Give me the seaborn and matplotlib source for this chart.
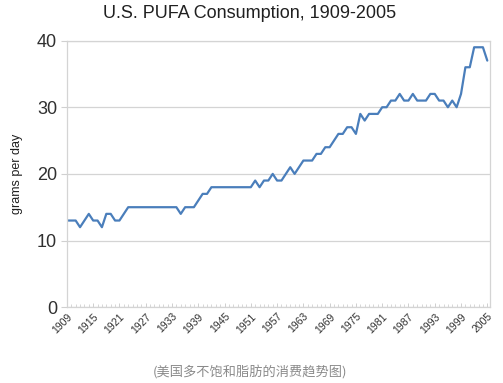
import pandas as pd
import seaborn as sns
import matplotlib.pyplot as plt
from matplotlib.ticker import MultipleLocator

# Yearly values (grams per day), 1909-2005
years = list(range(1909, 2006))
pufa = ([13, 13, 13, 12, 13, 14, 13, 13, 12, 14, 14, 13, 13, 14, 15]   # 1909-1923
        + [15] * 11                                                    # 1924-1934
        + [14, 15, 15, 15, 16, 17, 17, 18]                             # 1935-1942
        + [18] * 9                                                     # 1943-1951
        + [19, 18, 19, 19, 20, 19, 19, 20, 21, 20, 21, 22, 22, 22,     # 1952-1965
           23, 23, 24, 24, 25, 26, 26, 27, 27, 26, 29, 28, 29, 29,     # 1966-1979
           29, 30, 30, 31, 31, 32, 31, 31, 32, 31, 31, 31, 32, 32,     # 1980-1993
           31, 31, 30, 31, 30, 32, 36, 36, 39, 39, 39, 37])            # 1994-2005
xtick_years = list(range(1909, 2000, 6)) + [2005]
ytick_vals = [0, 10, 20, 30, 40]

df = pd.DataFrame({'year': years, 'pufa': pufa})

sns.set_style('white')
plt.rcParams['font.family'] = ['Liberation Sans', 'DejaVu Sans']

fig = plt.figure(figsize=(5.03, 3.83), dpi=100)
ax = fig.add_axes([0.133, 0.198, 0.841, 0.696])

sns.lineplot(data=df, x='year', y='pufa', ax=ax, color='#4a7ebb', linewidth=1.6)

ax.set_xlim(1909, 2005.6)
ax.set_ylim(0, 40)
ax.set_yticks(ytick_vals)
ax.set_xticks(xtick_years)
ax.set_xticklabels([str(y) for y in xtick_years], rotation=45, ha='right',
                   rotation_mode='anchor', fontsize=7.5, color='#303030')
ax.xaxis.set_minor_locator(MultipleLocator(1))
ax.tick_params(axis='y', labelsize=13, colors='#d0d0d0', labelcolor='#303030',
               length=4, width=0.8, direction='out', left=True, pad=3)
ax.tick_params(axis='x', which='major', length=3, width=0.6, colors='#c8c8c8',
               labelcolor='#303030', direction='in', bottom=True, pad=3)
ax.tick_params(axis='x', which='minor', length=2, width=0.5, colors='#c8c8c8',
               direction='in', bottom=True)

ax.grid(axis='y', color='#d4d4d4', linewidth=0.9)
for side in ['left', 'right', 'top', 'bottom']:
    ax.spines[side].set_color('#d4d4d4')
    ax.spines[side].set_linewidth(0.9)

ax.set_xlabel('')
ax.set_ylabel('grams per day', fontsize=9, color='#202020', labelpad=10)

fig.text(0.497, 0.965, 'U.S. PUFA Consumption, 1909-2005', ha='center', va='center',
         fontsize=13, color='#202020')
fig.text(0.497, 0.03, '(美国多不饱和脂肪的消费趋势图)', ha='center', va='center',
         fontsize=9.5, color='#8a8a8a', family=['Noto Sans CJK SC', 'DejaVu Sans'])

fig.savefig('out.png', dpi=100)
